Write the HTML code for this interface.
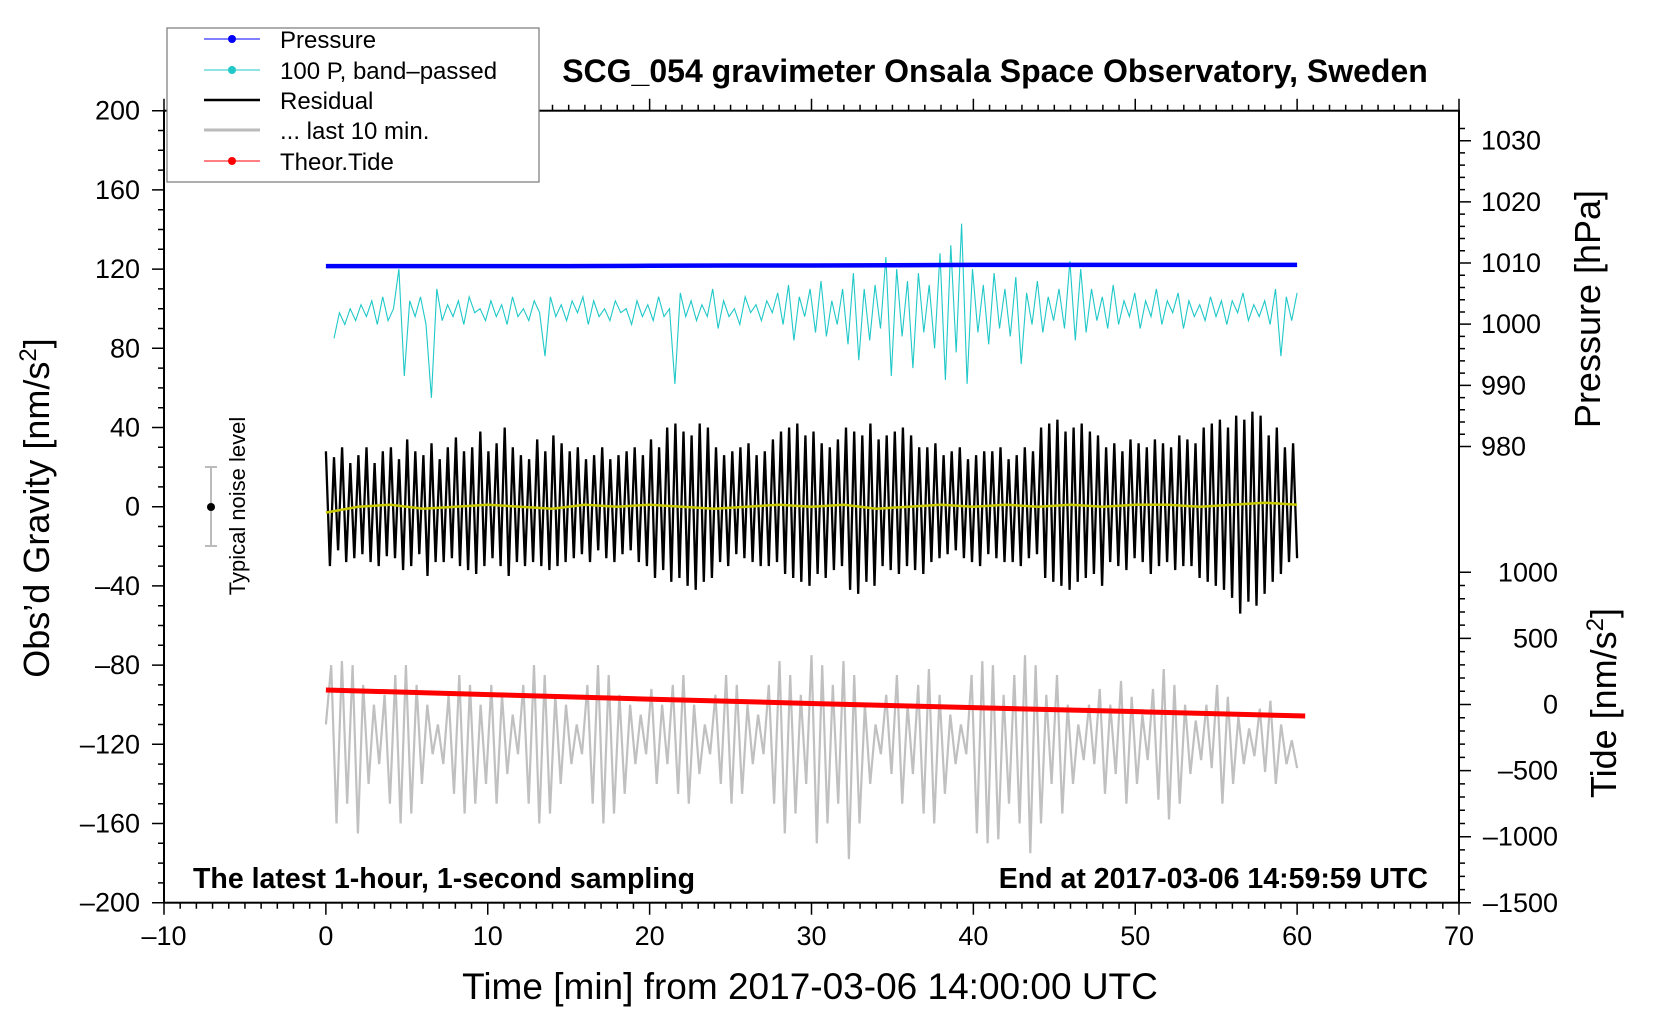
<!DOCTYPE html>
<html><head><meta charset="utf-8"><style>
html,body{margin:0;padding:0;background:#fff;}
svg{display:block;font-family:"Liberation Sans",sans-serif;}
</style></head><body>
<svg id="chart" width="1660" height="1020" viewBox="0 0 1660 1020">
<rect width="1660" height="1020" fill="#fff"/>
<g id="marks"></g>
<g id="axes"></g>
<text x="995" y="82" text-anchor="middle" font-size="32" font-weight="bold">SCG_054 gravimeter Onsala Space Observatory, Sweden</text>
<text x="193" y="888" font-size="28.5" font-weight="bold">The latest 1-hour, 1-second sampling</text>
<text x="1428" y="888" text-anchor="end" font-size="28.5" font-weight="bold">End at 2017-03-06 14:59:59 UTC</text>
<text x="810" y="999" text-anchor="middle" font-size="37">Time [min] from 2017-03-06 14:00:00 UTC</text>
<text transform="translate(49,508) rotate(-90)" text-anchor="middle" font-size="36">Obs’d Gravity [nm/s<tspan font-size="24" dy="-13">2</tspan><tspan dy="13">]</tspan></text>
<text transform="translate(1600,309) rotate(-90)" text-anchor="middle" font-size="36">Pressure [hPa]</text>
<text transform="translate(1616,703) rotate(-90)" text-anchor="middle" font-size="36">Tide [nm/s<tspan font-size="24" dy="-13">2</tspan><tspan dy="13">]</tspan></text>
<g>
<line x1="211" y1="467" x2="211" y2="546" stroke="#bbb" stroke-width="2"/>
<line x1="205" y1="467" x2="217" y2="467" stroke="#bbb" stroke-width="2"/>
<line x1="205" y1="546" x2="217" y2="546" stroke="#bbb" stroke-width="2"/>
<circle cx="211" cy="507" r="4" fill="#000"/>
<text transform="translate(245,506) rotate(-90)" text-anchor="middle" font-size="22">Typical noise level</text>
</g>
<g>
<rect x="167" y="28" width="372" height="154" fill="#fff" stroke="#777" stroke-width="1.2"/>
<g><line x1="204" y1="39" x2="260" y2="39" stroke="#0000ff" stroke-width="1"/><circle cx="232" cy="39" r="4" fill="#0000ff"/><text x="280" y="48" font-size="24">Pressure</text></g>
<g><line x1="204" y1="70" x2="260" y2="70" stroke="#20c8c8" stroke-width="1"/><circle cx="232" cy="70" r="4" fill="#20c8c8"/><text x="280" y="79" font-size="24">100 P, band–passed</text></g>
<g><line x1="204" y1="100" x2="260" y2="100" stroke="#000" stroke-width="2.5"/><text x="280" y="109" font-size="24">Residual</text></g>
<g><line x1="204" y1="130" x2="260" y2="130" stroke="#bbb" stroke-width="3"/><text x="280" y="139" font-size="24">... last 10 min.</text></g>
<g><line x1="204" y1="161" x2="260" y2="161" stroke="#ff0000" stroke-width="1"/><circle cx="232" cy="161" r="4" fill="#ff0000"/><text x="280" y="170" font-size="24">Theor.Tide</text></g>
</g>
</svg>
<script>
const xTicks=[-10,0,10,20,30,40,50,60,70];
const yTicks=[200,160,120,80,40,0,-40,-80,-120,-160,-200];
const pTicks=[980,990,1000,1010,1020,1030];
const tTicks=[1000,500,0,-500,-1000,-1500];
const pressure=[1009.5,1009.5,1009.5,1009.5,1009.55,1009.6,1009.6,1009.65,1009.7,1009.7,1009.7,1009.7,1009.7];
const bandPassed=[85,98,92,100,94,102,96,104,92,106,94,100,120,66,104,96,106,92,55,110,94,102,96,104,92,106,98,100,94,104,96,102,92,106,96,100,94,104,98,76,106,96,102,94,104,98,106,92,104,96,100,94,104,98,100,92,104,96,102,94,106,96,100,62,108,96,104,94,102,96,110,90,104,96,100,92,106,98,102,94,104,98,108,92,112,84,106,96,110,88,114,86,104,92,110,82,118,74,110,84,112,90,126,66,120,86,114,70,118,88,112,80,128,64,132,78,143,62,120,88,112,82,118,90,110,86,116,72,108,92,114,88,106,94,110,90,124,84,120,88,110,94,106,90,112,92,104,96,108,90,104,96,110,92,104,98,108,90,104,96,102,94,106,96,104,92,104,98,108,94,102,96,104,92,110,76,106,94,108];
const residual=[28,-30,25,-22,30,-28,22,-26,26,-24,30,-28,22,-30,28,-25,30,-26,24,-32,34,-30,28,-24,26,-35,32,-28,24,-28,30,-26,35,-30,28,-32,30,-34,38,-30,28,-26,32,-30,40,-35,30,-28,26,-30,24,-28,34,-30,28,-32,36,-30,32,-28,28,-26,30,-24,24,-28,26,-22,30,-26,24,-28,26,-24,28,-22,30,-28,26,-30,34,-36,30,-32,40,-38,42,-36,38,-40,36,-42,42,-38,40,-36,30,-28,26,-30,28,-24,30,-26,32,-28,26,-30,28,-30,34,-28,38,-34,40,-36,42,-38,36,-40,38,-34,32,-36,30,-32,34,-30,40,-42,38,-44,36,-38,42,-40,34,-30,36,-32,38,-34,40,-30,36,-32,30,-34,30,-28,32,-26,26,-24,28,-22,30,-26,24,-28,26,-30,28,-24,28,-26,30,-28,24,-28,26,-30,30,-26,28,-24,40,-36,42,-38,44,-40,38,-42,40,-38,42,-36,38,-34,36,-40,30,-28,32,-30,28,-32,34,-26,32,-28,30,-34,34,-30,32,-28,30,-32,36,-30,34,-30,32,-36,40,-38,42,-40,44,-42,40,-46,46,-54,44,-48,48,-50,46,-44,36,-38,40,-34,30,-28,32,-26];
const smoothed=[-3,0,1,-1,0,1,0,-1,1,0,1,0,-1,0,1,0,1,-1,0,1,0,1,0,1,0,1,1,0,1,2,1];
const last10=[-110,-80,-160,-78,-150,-80,-165,-90,-140,-100,-130,-95,-150,-85,-160,-80,-155,-90,-140,-100,-125,-110,-130,-95,-145,-85,-155,-90,-150,-100,-140,-90,-150,-95,-135,-105,-125,-90,-150,-80,-160,-85,-155,-95,-140,-100,-130,-110,-125,-90,-150,-80,-160,-85,-155,-95,-145,-100,-130,-105,-125,-92,-140,-100,-130,-90,-145,-85,-150,-100,-135,-110,-125,-95,-140,-85,-150,-90,-145,-100,-130,-105,-125,-90,-150,-78,-165,-85,-155,-95,-140,-75,-170,-80,-160,-90,-150,-78,-178,-85,-160,-100,-140,-110,-125,-95,-135,-85,-150,-100,-135,-90,-155,-82,-160,-95,-145,-105,-130,-110,-125,-85,-165,-78,-170,-80,-168,-95,-150,-85,-160,-75,-175,-80,-160,-95,-140,-85,-155,-100,-140,-110,-128,-100,-130,-92,-145,-100,-135,-88,-150,-96,-140,-105,-128,-92,-148,-82,-158,-90,-150,-100,-135,-108,-128,-100,-132,-90,-150,-96,-140,-106,-130,-112,-126,-102,-134,-98,-140,-110,-130,-118,-132];
const tide=[110,75,40,7,-25,-55,-87];

const X=v=>164+(v+10)*(1459-164)/80;
const Y=v=>506.7-v*1.98;
const P=v=>140.7+(1030-v)*6.116;
const T=v=>704.5-v*0.1322;
const NS='http://www.w3.org/2000/svg';
const marks=document.getElementById('marks'), axes=document.getElementById('axes');
function mk(tag,attrs,parent){const e=document.createElementNS(NS,tag);for(const k in attrs)e.setAttribute(k,attrs[k]);parent.appendChild(e);return e;}
function path(vals,x0,x1,fy){return vals.map((v,i)=>(i?'L':'M')+X(x0+i*(x1-x0)/(vals.length-1)).toFixed(1)+','+fy(v).toFixed(1)).join('');}

let e;
e=mk('path',{d:path(last10,0,60,Y),fill:'none',stroke:'#c0c0c0','stroke-width':2.2},marks);


e=mk('path',{d:path(tide,0,60.5,T),fill:'none',stroke:'#ff0000','stroke-width':5},marks);


e=mk('path',{d:path(residual,0,60,Y),fill:'none',stroke:'#000','stroke-width':2.3},marks);


e=mk('path',{d:path(smoothed,0,60,Y),fill:'none',stroke:'#c8c800','stroke-width':2.5},marks);


e=mk('path',{d:path(bandPassed,0.5,60,Y),fill:'none',stroke:'#20c8c8','stroke-width':1.1},marks);


e=mk('path',{d:path(pressure,0,60,P),fill:'none',stroke:'#0000ff','stroke-width':4.5},marks);



e=mk('rect',{x:164,y:110.7,width:1295,height:792,fill:'none',stroke:'#000','stroke-width':2},axes);


let tk='';
for(let m=-10;m<=70;m++){const x=X(m),L=(m%10===0)?12:6;tk+=`M${x},902.7v${L}M${x},110.7v${-L}`;}
for(let v=-200;v<=200;v+=10){const y=Y(v),L=(v%40===0)?12:6;tk+=`M164,${y}h${-L}`;}
for(let v=980;v<=1032;v+=2){const y=P(v),L=(v%10===0)?12:6;tk+=`M1459,${y}h${L}`;}
for(let v=-1500;v<=1000;v+=100){const y=T(v),L=(v%500===0)?12:6;tk+=`M1459,${y}h${L}`;}
e=mk('path',{d:tk,stroke:'#000','stroke-width':1.5,fill:'none'},axes);


xTicks.forEach(v=>{const t=mk('text',{x:X(v),y:945,'text-anchor':'middle','font-size':27},axes);t.textContent=String(v).replace('-','–');

});
yTicks.forEach(v=>{const t=mk('text',{x:140,y:Y(v)+9,'text-anchor':'end','font-size':27},axes);t.textContent=String(v).replace('-','–');

});
pTicks.forEach(v=>{const t=mk('text',{x:1481,y:P(v)+9,'text-anchor':'start','font-size':27},axes);t.textContent=String(v);

});
tTicks.forEach(v=>{const t=mk('text',{x:1558,y:T(v)+9,'text-anchor':'end','font-size':27},axes);t.textContent=String(v).replace('-','–');

});
</script>
</body></html>
